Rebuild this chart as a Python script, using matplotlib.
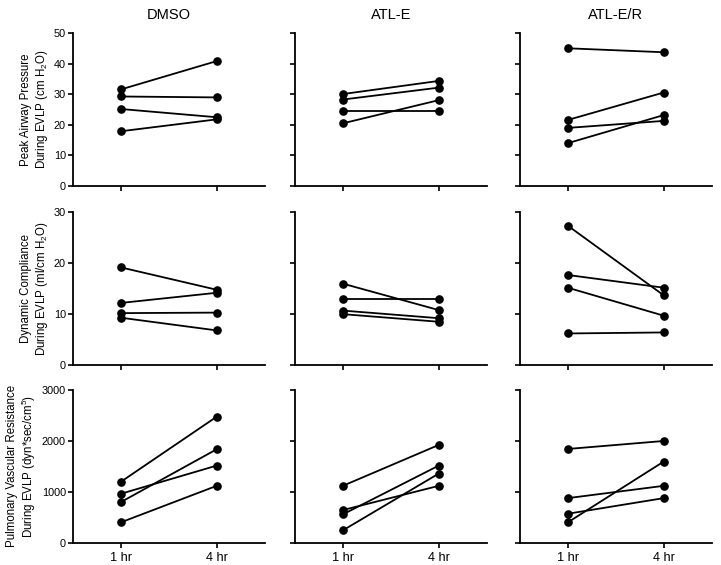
import matplotlib
import matplotlib.pyplot as plt

matplotlib.use("Agg")

plt.rcParams["font.family"] = ["Liberation Sans", "DejaVu Sans"]
plt.rcParams["mathtext.fontset"] = "custom"
plt.rcParams["mathtext.rm"] = "Liberation Sans"
plt.rcParams["mathtext.it"] = "Liberation Sans:italic"

# --- Data ---
groups = ["DMSO", "ATL-E", "ATL-E/R"]
times = ["1 hr", "4 hr"]

# Peak airway pressure, pairs of (1 hr, 4 hr) per lung
pressure_dmso = [(31.6, 40.9), (29.3, 29.0), (25.2, 22.5), (17.9, 21.8)]
pressure_atle = [(30.1, 34.4), (28.3, 32.2), (24.5, 24.5), (20.5, 28.1)]
pressure_atler = [(45.1, 43.8), (21.6, 30.6), (19.0, 21.3), (14.0, 23.2)]

# Dynamic compliance
compliance_dmso = [(19.2, 14.8), (12.2, 14.2), (10.2, 10.3), (9.3, 6.8)]
compliance_atle = [(16.0, 10.8), (12.9, 12.9), (10.7, 9.2), (10.0, 8.5)]
compliance_atler = [(27.4, 13.7), (17.7, 15.2), (15.2, 9.7), (6.2, 6.4)]

# Pulmonary vascular resistance
pvr_dmso = [(1196, 2477), (961, 1516), (797, 1837), (399, 1118)]
pvr_atle = [(1118, 1922), (641, 1118), (556, 1516), (242, 1359)]
pvr_atler = [(1843, 2000), (876, 1118), (569, 876), (399, 1595)]

rows = [
    ([pressure_dmso, pressure_atle, pressure_atler], 50, 10,
     "Peak Airway Pressure\nDuring EVLP (cm H$_2$O)"),
    ([compliance_dmso, compliance_atle, compliance_atler], 30, 10,
     "Dynamic Compliance\nDuring EVLP (ml/cm H$_2$O)"),
    ([pvr_dmso, pvr_atle, pvr_atler], 3000, 1000,
     "Pulmonary Vascular Resistance\nDuring EVLP (dyn*sec/cm$^5$)"),
]

# --- Layout (figure fractions) ---
fig = plt.figure(figsize=(7.21, 5.65), dpi=100)
lefts = [0.101, 0.409, 0.721]
width = 0.266
bottoms = [0.671, 0.354, 0.0395]
height = 0.270

for r, (panels, ymax, ystep, ylabel) in enumerate(rows):
    for c, data in enumerate(panels):
        ax = fig.add_axes([lefts[c], bottoms[r], width, height])
        for pair in data:
            ax.plot([0, 1], pair, color="black", lw=1.3, marker="o",
                    markersize=5.2, clip_on=False, zorder=3)
        ax.set_xlim(-0.5, 1.5)
        ax.set_ylim(0, ymax)
        ax.set_yticks(range(0, ymax + 1, ystep))
        ax.set_xticks([0, 1])
        for side in ("top", "right"):
            ax.spines[side].set_visible(False)
        for side in ("left", "bottom"):
            ax.spines[side].set_linewidth(1.3)
        ax.tick_params(direction="out", length=3.5, width=1.2, pad=1.5)
        ax.tick_params(axis="y", labelsize=7.8)
        ax.tick_params(axis="x", labelsize=9.2, pad=3)
        if c == 0:
            ax.set_ylabel(ylabel, fontsize=8.3, labelpad=3, linespacing=1.1)
        else:
            ax.set_yticklabels([])
        if r == 2:
            ax.set_xticklabels(times)
        else:
            ax.set_xticklabels([])
        if r == 0:
            ax.set_title(groups[c], fontsize=10.5, pad=10)

fig.savefig("out.png", dpi=100)
plt.close()
